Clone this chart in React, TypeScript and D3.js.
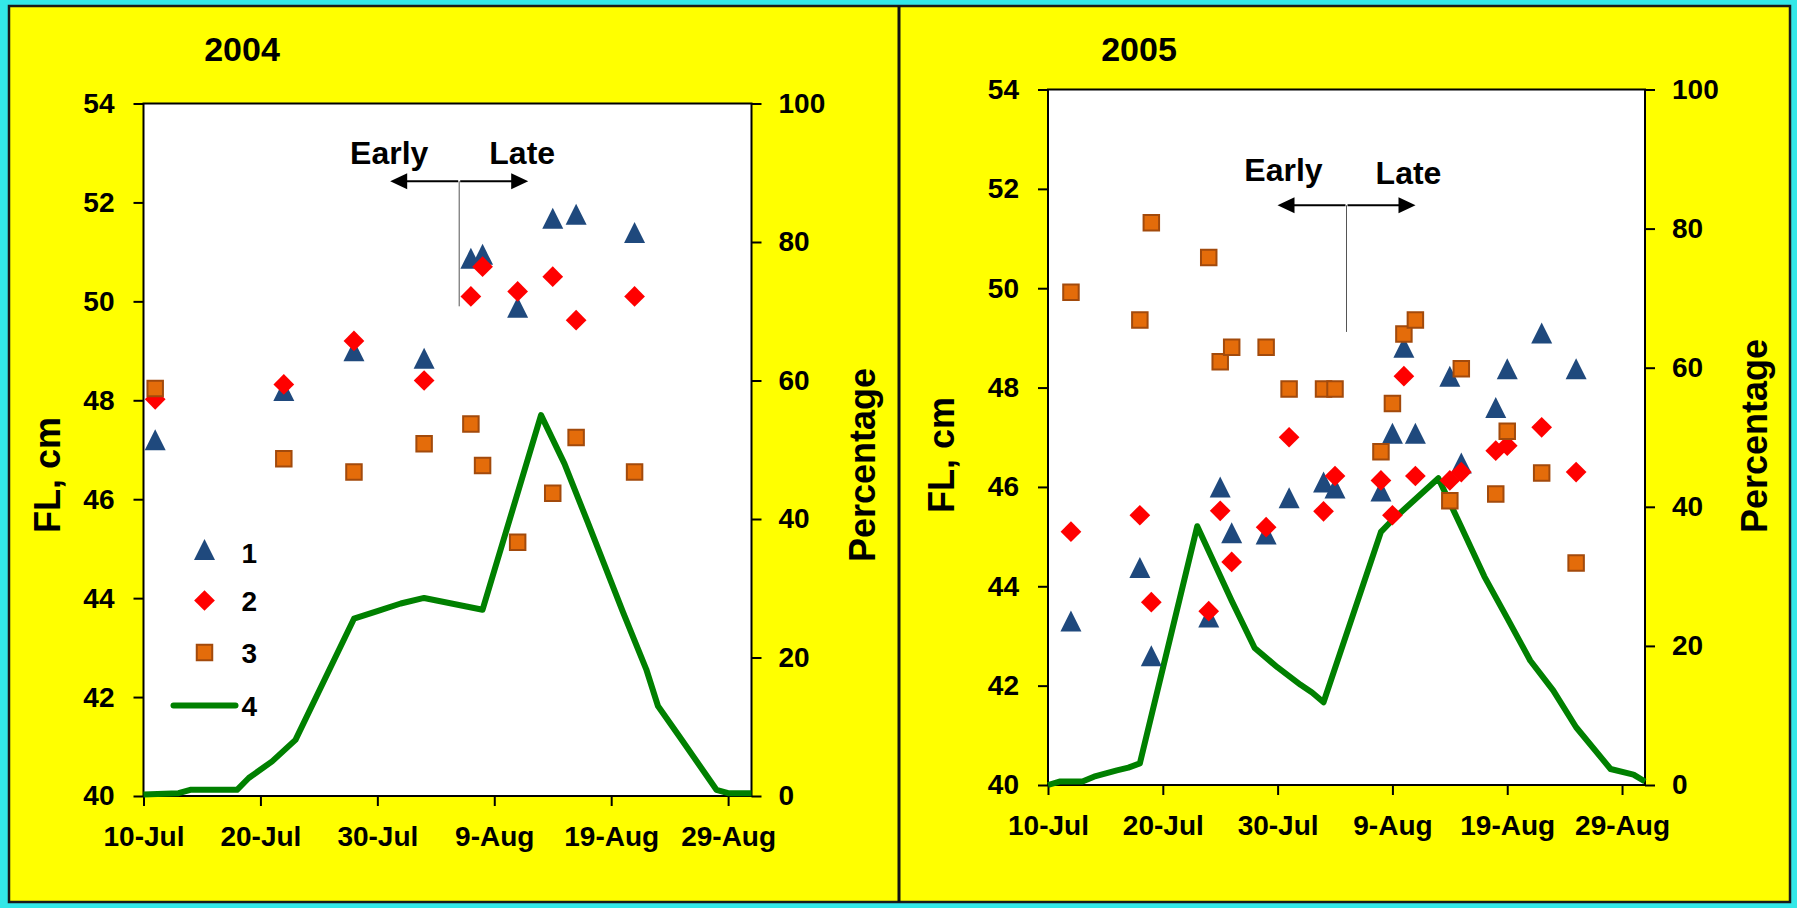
import React, { useEffect, useRef } from 'react'
import * as d3 from 'd3'

const FONT = "'Liberation Sans', Arial, Helvetica, sans-serif"

// 2004 sampling dates and fork length (cm) of the three groups
const dates2004 = ['2004-07-11', '2004-07-22', '2004-07-28', '2004-08-03', '2004-08-07', '2004-08-08', '2004-08-11', '2004-08-14', '2004-08-16', '2004-08-21']
const fl1_2004 = [47.2, 48.2, 49.0, 48.85, 50.87, 50.95, 49.88, 51.68, 51.76, 51.39]
const fl2_2004 = [48.02, 48.32, 49.2, 48.4, 50.1, 50.7, 50.2, 50.5, 49.62, 50.1]
const fl3_2004 = [48.24, 46.82, 46.55, 47.12, 47.52, 46.68, 45.13, 46.12, 47.25, 46.55]

// 2004 run percentage (line 4)
const lineDates2004 = ['2004-07-10', '2004-07-13', '2004-07-14', '2004-07-18', '2004-07-19', '2004-07-21', '2004-07-23', '2004-07-28', '2004-07-30', '2004-08-01', '2004-08-03', '2004-08-08', '2004-08-13', '2004-08-15', '2004-08-17', '2004-08-20', '2004-08-22', '2004-08-23', '2004-08-25', '2004-08-28', '2004-08-29', '2004-08-31']
const pct2004 = [0.2, 0.4, 0.9, 0.9, 2.6, 5.0, 8.1, 25.6, 26.7, 27.8, 28.6, 26.9, 55, 48, 39.5, 26.6, 18.3, 13, 8.2, 0.9, 0.4, 0.4]

// 2005
const dates2005 = ['2005-07-12', '2005-07-18', '2005-07-19', '2005-07-24', '2005-07-25', '2005-07-26', '2005-07-29', '2005-07-31', '2005-08-03', '2005-08-04', '2005-08-08', '2005-08-09', '2005-08-10', '2005-08-11', '2005-08-14', '2005-08-15', '2005-08-18', '2005-08-19', '2005-08-22', '2005-08-25']
const fl1_2005 = [43.3, 44.38, 42.6, 43.38, 46.0, 45.08, 45.05, 45.78, 46.1, 45.98, 45.92, 47.08, 48.81, 47.08, 48.23, 46.48, 47.6, 48.38, 49.1, 48.38]
const fl2_2005 = [45.1, 45.43, 43.68, 43.5, 45.52, 44.49, 45.19, 47.0, 45.51, 46.22, 46.13, 45.43, 48.23, 46.22, 46.13, 46.3, 46.73, 46.83, 47.2, 46.3]
const fl3_2005 = [49.92, 49.36, 51.32, 50.62, 48.52, 48.81, 48.81, 47.97, 47.97, 47.97, 46.71, 47.68, 49.08, 49.36, 45.72, 48.38, 45.86, 47.12, 46.28, 44.47]

const lineDates2005 = ['2005-07-10', '2005-07-11', '2005-07-13', '2005-07-14', '2005-07-16', '2005-07-17', '2005-07-18', '2005-07-23', '2005-07-26', '2005-07-28', '2005-07-30', '2005-08-01', '2005-08-02', '2005-08-03', '2005-08-08', '2005-08-09', '2005-08-13', '2005-08-15', '2005-08-17', '2005-08-19', '2005-08-21', '2005-08-23', '2005-08-25', '2005-08-28', '2005-08-30', '2005-08-31']
const pct2005 = [0, 0.5, 0.5, 1.2, 2.1, 2.5, 3.1, 37.2, 26.5, 19.7, 16.9, 14.4, 13.3, 11.9, 36.4, 38.1, 44.1, 37.1, 30, 24, 17.9, 13.6, 8.3, 2.3, 1.5, 0.5]

const flTicks = [40, 42, 44, 46, 48, 50, 52, 54]
const pctTicks = [0, 20, 40, 60, 80, 100]
const legendLabels = ['1', '2', '3', '4']

const parse = d3.timeParse('%Y-%m-%d')
const fmt = d3.timeFormat('%-d-%b')

const colTri = '#1F497D'
const colDia = '#FF0000'
const colSq = '#E46C0A'
const colSqEdge = '#A24A0C'
const colLine = '#008000'

// excel-like markers: triangle as tall as it is wide, diamond = rotated square
const triPath = 'M0,-10.5L10.5,10.5L-10.5,10.5Z'
const diaPath = d3.symbol(d3.symbolSquare, 215)() as string
const sqPath = d3.symbol(d3.symbolSquare, 240)() as string

const panels = [
  {
    year: '2004', start: '2004-07-10', end: '2004-08-31',
    left: 143.5, right: 751.5, top: 103.5, bottom: 796,
    dates: dates2004, fl1: fl1_2004, fl2: fl2_2004, fl3: fl3_2004,
    lineDates: lineDates2004, pct: pct2004,
    titleX: 242, titleY: 61,
    flX: 60, flY: 475, pctX: 875, pctY: 465,
    split: '2004-08-06', splitLow: 49.9, arrowFL: 52.43, earlyDx: -70, lateDx: 63, earlyDy: -17, lateDy: -17,
    legend: true,
  },
  {
    year: '2005', start: '2005-07-10', end: '2005-08-31',
    left: 1048, right: 1645, top: 89.5, bottom: 785,
    dates: dates2005, fl1: fl1_2005, fl2: fl2_2005, fl3: fl3_2005,
    lineDates: lineDates2005, pct: pct2005,
    titleX: 1139, titleY: 61,
    flX: 954, flY: 455, pctX: 1767, pctY: 436,
    split: '2005-08-05', splitLow: 49.12, arrowFL: 51.67, earlyDx: -63, lateDx: 62, earlyDy: -24, lateDy: -21,
    legend: false,
  },
]

function drawPanel(svg: any, p: any) {
  const start = parse(p.start) as Date
  const x = d3.scaleTime().domain([start, parse(p.end) as Date]).range([p.left, p.right])
  const yL = d3.scaleLinear().domain([40, 54]).range([p.bottom, p.top])
  const yR = d3.scaleLinear().domain([0, 100]).range([p.bottom, p.top])
  const xTicks = d3.range(6).map(i => d3.timeDay.offset(start, i * 10))

  const g = svg.append('g')

  // plot area
  g.append('rect')
    .attr('x', p.left).attr('y', p.top)
    .attr('width', p.right - p.left).attr('height', p.bottom - p.top)
    .attr('fill', 'white').attr('stroke', 'black').attr('stroke-width', 2)

  const styleAxis = (a: any) => {
    a.select('.domain').remove()
    a.selectAll('line').attr('stroke', 'black').attr('stroke-width', 2)
    a.selectAll('text')
      .attr('font-family', FONT).attr('font-size', 28).attr('font-weight', 'bold').attr('fill', 'black')
  }

  g.append('g').attr('transform', `translate(${p.left},0)`)
    .call(d3.axisLeft(yL).tickValues(flTicks).tickSize(10).tickPadding(19))
    .call(styleAxis)
  g.append('g').attr('transform', `translate(${p.right},0)`)
    .call(d3.axisRight(yR).tickValues(pctTicks).tickSize(10).tickPadding(17))
    .call(styleAxis)
  g.append('g').attr('transform', `translate(0,${p.bottom})`)
    .call(d3.axisBottom(x).tickValues(xTicks).tickFormat((d: any) => fmt(d)).tickSize(10).tickPadding(20))
    .call(styleAxis)

  // line 4 (percentage, right axis)
  const pts: [Date, number][] = p.lineDates.map((d: string, i: number) => [parse(d) as Date, p.pct[i]])
  const line = d3.line<[Date, number]>().x(d => x(d[0])).y(d => yR(d[1]))
  g.append('path').attr('d', line(pts)).attr('fill', 'none')
    .attr('stroke', colLine).attr('stroke-width', 6).attr('stroke-linejoin', 'round')

  const dts = p.dates.map((d: string) => parse(d) as Date)
  g.selectAll('.tri').data(p.fl1).enter().append('path')
    .attr('d', triPath)
    .attr('transform', (v: number, i: number) => `translate(${x(dts[i])},${yL(v)})`)
    .attr('fill', colTri)
  g.selectAll('.dia').data(p.fl2).enter().append('path')
    .attr('d', diaPath)
    .attr('transform', (v: number, i: number) => `translate(${x(dts[i])},${yL(v)}) rotate(45)`)
    .attr('fill', colDia)
  g.selectAll('.sq').data(p.fl3).enter().append('path')
    .attr('d', sqPath)
    .attr('transform', (v: number, i: number) => `translate(${x(dts[i])},${yL(v)})`)
    .attr('fill', colSq).attr('stroke', colSqEdge).attr('stroke-width', 2)

  // Early / Late marker
  const sx = x(parse(p.split) as Date)
  const ay = yL(p.arrowFL)
  g.append('line').attr('x1', sx).attr('x2', sx).attr('y1', ay).attr('y2', yL(p.splitLow))
    .attr('stroke', '#555').attr('stroke-width', 1)
  const arrow = (dir: number) => {
    const tip = sx + dir * 69
    g.append('line').attr('x1', sx + dir).attr('x2', tip - dir * 12).attr('y1', ay).attr('y2', ay)
      .attr('stroke', 'black').attr('stroke-width', 2)
    g.append('path')
      .attr('d', `M${tip},${ay} L${tip - dir * 17},${ay - 8} L${tip - dir * 17},${ay + 8}Z`)
      .attr('fill', 'black')
  }
  arrow(-1)
  arrow(1)
  const annot = (t: string, dx: number, dy: number) =>
    g.append('text').text(t).attr('x', sx + dx).attr('y', ay + dy)
      .attr('text-anchor', 'middle').attr('font-family', FONT).attr('font-size', 32).attr('font-weight', 'bold')
  annot('Early', p.earlyDx, p.earlyDy)
  annot('Late', p.lateDx, p.lateDy)

  // titles
  g.append('text').text(p.year).attr('x', p.titleX).attr('y', p.titleY)
    .attr('text-anchor', 'middle').attr('font-family', FONT).attr('font-size', 34).attr('font-weight', 'bold')
  g.append('text').text('FL, cm')
    .attr('transform', `translate(${p.flX},${p.flY}) rotate(-90)`)
    .attr('text-anchor', 'middle').attr('font-family', FONT).attr('font-size', 36).attr('font-weight', 'bold')
  g.append('text').text('Percentage')
    .attr('transform', `translate(${p.pctX},${p.pctY}) rotate(-90)`)
    .attr('text-anchor', 'middle').attr('font-family', FONT).attr('font-size', 36).attr('font-weight', 'bold')

  if (p.legend) {
    const lx = p.left + 61
    const rows = [p.top + 446, p.top + 497, p.top + 549, p.top + 602]
    g.append('path').attr('d', triPath).attr('transform', `translate(${lx},${rows[0]})`).attr('fill', colTri)
    g.append('path').attr('d', diaPath).attr('transform', `translate(${lx},${rows[1]}) rotate(45)`).attr('fill', colDia)
    g.append('path').attr('d', sqPath).attr('transform', `translate(${lx},${rows[2]})`)
      .attr('fill', colSq).attr('stroke', colSqEdge).attr('stroke-width', 2)
    g.append('line').attr('x1', lx - 31).attr('x2', lx + 31).attr('y1', rows[3]).attr('y2', rows[3])
      .attr('stroke', colLine).attr('stroke-width', 6).attr('stroke-linecap', 'round')
    g.selectAll('.leg').data(legendLabels).enter().append('text')
      .text((d: string) => d)
      .attr('x', lx + 37)
      .attr('y', (d: string, i: number) => rows[i] + (i === 0 ? 13 : 10))
      .attr('font-family', FONT).attr('font-size', 28).attr('font-weight', 'bold')
  }
}

export default function App() {
  const ref = useRef<SVGSVGElement>(null)

  useEffect(() => {
    const svg = d3.select(ref.current)
    svg.selectAll('*').remove()

    svg.append('rect').attr('width', 1797).attr('height', 908).attr('fill', '#33E8E8')
    svg.append('rect').attr('x', 9).attr('y', 6).attr('width', 1781).attr('height', 896)
      .attr('fill', '#FFFF00').attr('stroke', '#1a1a1a').attr('stroke-width', 2.5)
    svg.append('line').attr('x1', 899).attr('x2', 899).attr('y1', 6).attr('y2', 902)
      .attr('stroke', '#111').attr('stroke-width', 3)

    panels.forEach(p => drawPanel(svg, p))
  }, [])

  return (
    <svg ref={ref} width={1797} height={908} style={{ position: 'absolute', left: 0, top: 0 }} />
  )
}
